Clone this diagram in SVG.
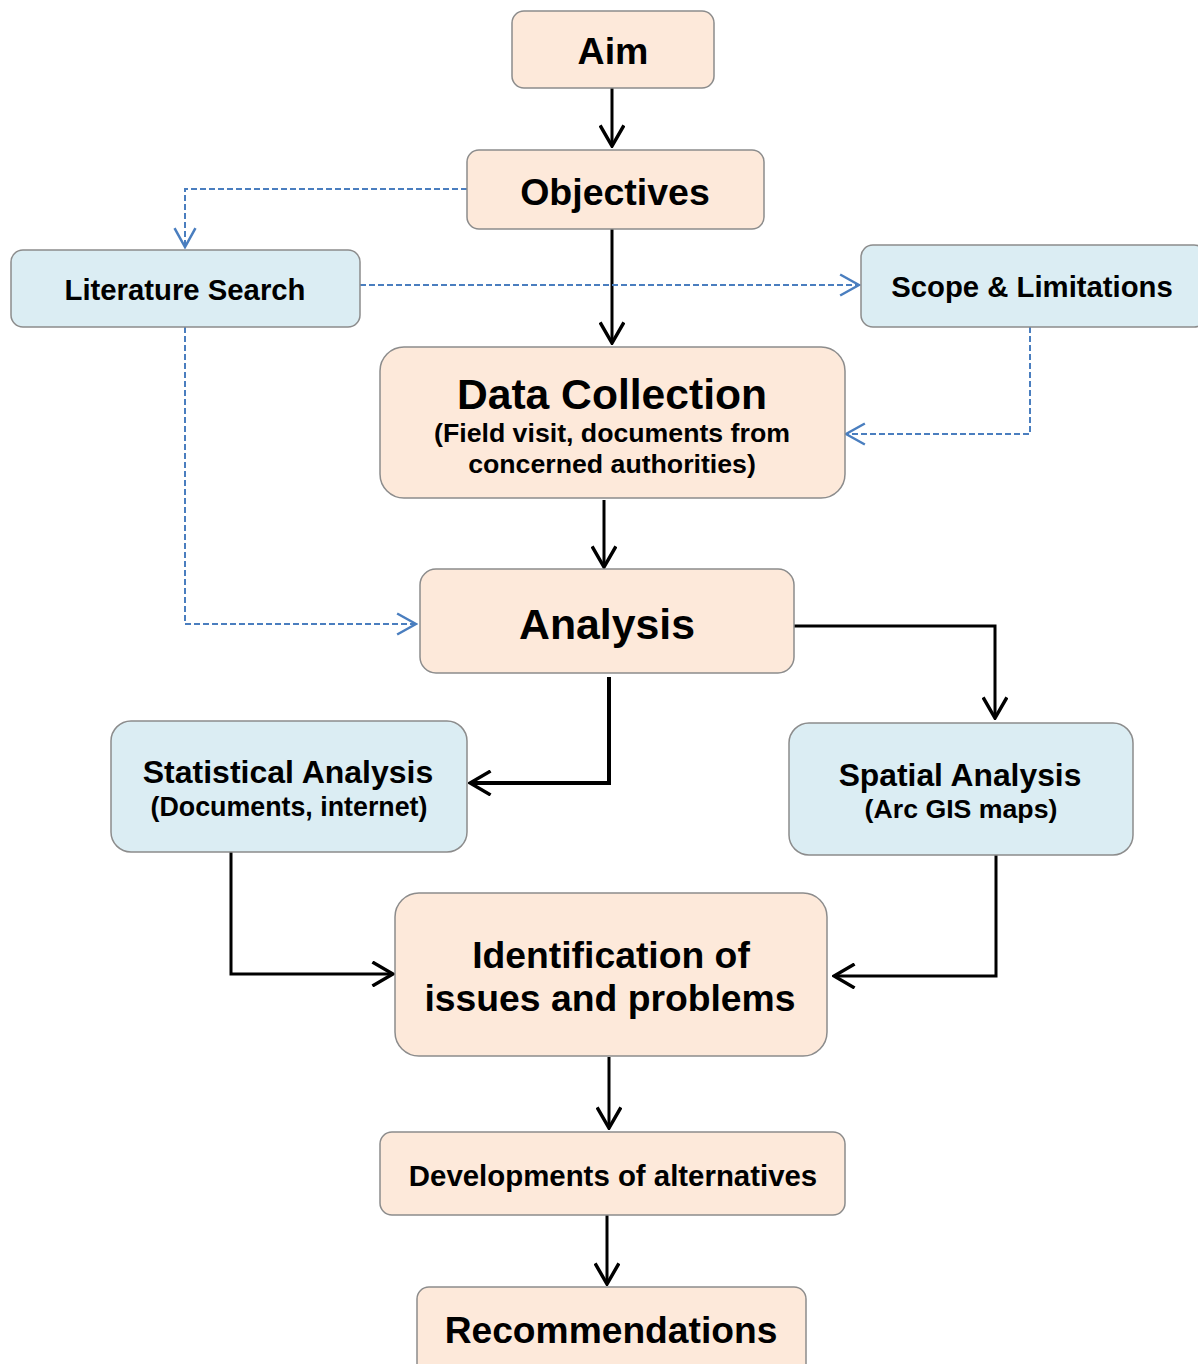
<svg xmlns="http://www.w3.org/2000/svg" width="1198" height="1364" viewBox="0 0 1198 1364">
<defs>
<style>
.pe{fill:#FDE9DA;stroke:#8C8C8C;stroke-width:1.5}
.bl{fill:#DBEDF3;stroke:#8C8C8C;stroke-width:1.5}
text{font-family:"Liberation Sans",Arial,sans-serif;font-weight:bold;fill:#000;text-anchor:middle}
.k{fill:none;stroke:#000;stroke-width:3}
.d{fill:none;stroke:#4A7EBF;stroke-width:2;stroke-dasharray:6,3}
</style>
<marker id="ak" markerUnits="userSpaceOnUse" markerWidth="24" markerHeight="26" refX="20" refY="12" orient="auto" viewBox="0 0 22 24">
<path d="M1,1 L20,12 L1,23" fill="none" stroke="#000" stroke-width="3.2"/>
</marker>
<marker id="ab" markerUnits="userSpaceOnUse" markerWidth="22" markerHeight="24" refX="19" refY="11" orient="auto" viewBox="0 0 21 22">
<path d="M1,1 L19,11 L1,21" fill="none" stroke="#4A7EBF" stroke-width="2.4"/>
</marker>
</defs>
<g id="connectors">
<path class="k" d="M612,88 V146" marker-end="url(#ak)"/>
<path class="k" d="M612,229 V343" marker-end="url(#ak)"/>
<path class="d" d="M467,189 H185 V247" marker-end="url(#ab)"/>
<path class="d" d="M360,285 H859" marker-end="url(#ab)"/>
<path class="d" d="M1030,327 V434 H846" marker-end="url(#ab)"/>
<path class="d" d="M185,327 V624 H416" marker-end="url(#ab)"/>
<path class="k" d="M604,500 V567" marker-end="url(#ak)"/>
<path class="k" d="M609,677 V783 H470" style="stroke-width:4" marker-end="url(#ak)"/>
<path class="k" d="M792,626 H995 V718" marker-end="url(#ak)"/>
<path class="k" d="M231,852 V974 H393" marker-end="url(#ak)"/>
<path class="k" d="M996,855 V976 H834" marker-end="url(#ak)"/>
<path class="k" d="M609,1057 V1128" marker-end="url(#ak)"/>
<path class="k" d="M607,1215 V1284" marker-end="url(#ak)"/>
</g>
<g id="aim"><rect class="pe" x="512" y="11" width="202" height="77" rx="12"/><text x="613" y="64" font-size="37.5">Aim</text></g>
<g id="objectives"><rect class="pe" x="467" y="150" width="297" height="79" rx="12"/><text x="615" y="205" font-size="37.5">Objectives</text></g>
<g id="literature"><rect class="bl" x="11" y="250" width="349" height="77" rx="12"/><text x="185" y="300" font-size="29.3">Literature Search</text></g>
<g id="scope"><rect class="bl" x="861" y="245" width="345" height="82" rx="12"/><text x="1032" y="297" font-size="29.3">Scope &amp; Limitations</text></g>
<g id="datacollection"><rect class="pe" x="380" y="347" width="465" height="151" rx="24"/>
<text x="612" y="409" font-size="42.6">Data Collection</text>
<text x="612" y="442" font-size="26.7">(Field visit, documents from</text>
<text x="612" y="473" font-size="26.7">concerned authorities)</text></g>
<g id="analysis"><rect class="pe" x="420" y="569" width="374" height="104" rx="16"/><text x="607" y="639" font-size="42.8">Analysis</text></g>
<g id="statistical"><rect class="bl" x="111" y="721" width="356" height="131" rx="20"/>
<text x="288" y="783" font-size="32">Statistical Analysis</text>
<text x="289" y="816" font-size="26.8">(Documents, internet)</text></g>
<g id="spatial"><rect class="bl" x="789" y="723" width="344" height="132" rx="20"/>
<text x="960" y="786" font-size="31.8">Spatial Analysis</text>
<text x="961" y="818" font-size="26.7">(Arc GIS maps)</text></g>
<g id="identification"><rect class="pe" x="395" y="893" width="432" height="163" rx="24"/>
<text x="611" y="968" font-size="37.3">Identification of</text>
<text x="610" y="1011" font-size="37.3">issues and problems</text></g>
<g id="developments"><rect class="pe" x="380" y="1132" width="465" height="83" rx="12"/><text x="613" y="1186" font-size="29.4">Developments of alternatives</text></g>
<g id="recommendations"><rect class="pe" x="417" y="1287" width="389" height="90" rx="12"/><text x="611" y="1343" font-size="37.2">Recommendations</text></g>
</svg>
